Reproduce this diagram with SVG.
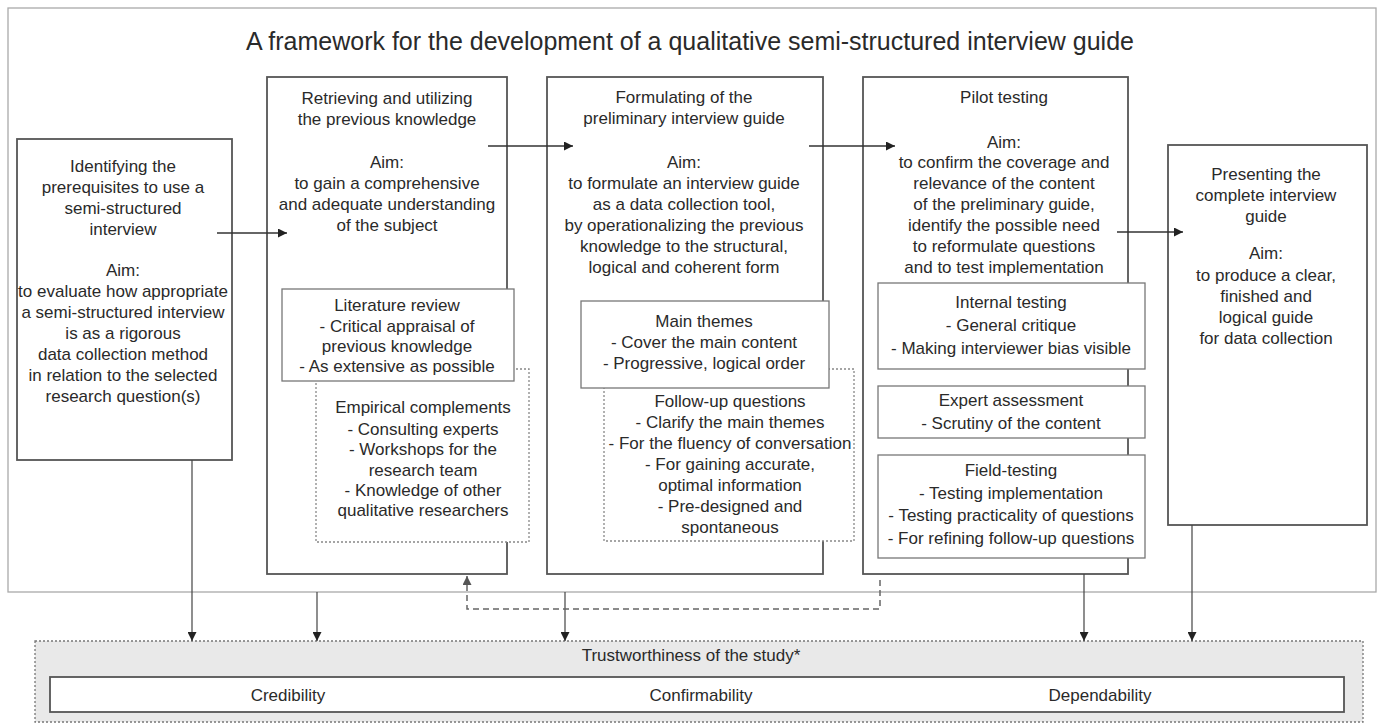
<svg xmlns="http://www.w3.org/2000/svg" width="1379" height="727" viewBox="0 0 1379 727">
<defs>
<marker id="ah" viewBox="0 0 10 10" refX="10" refY="5" markerWidth="11" markerHeight="9" markerUnits="userSpaceOnUse" orient="auto">
<path d="M0,0 L10,5 L0,10 z" fill="#222"/>
</marker>
<marker id="ahg" viewBox="0 0 10 10" refX="10" refY="5" markerWidth="11" markerHeight="9" markerUnits="userSpaceOnUse" orient="auto">
<path d="M0,0 L10,5 L0,10 z" fill="#555"/>
</marker>
</defs>
<style>
text{font-family:"Liberation Sans",Arial,Helvetica,sans-serif;font-size:17px;fill:#2a2a2a;text-anchor:middle}
.title{font-size:25px}
.main{fill:#fff;stroke:#555;stroke-width:1.8}
.sub{fill:#fff;stroke:#777;stroke-width:1.3}
.dot{fill:#fff;stroke:#888;stroke-width:1.3;stroke-dasharray:2 2}
.frame{fill:#fff;stroke:#aaa;stroke-width:1.3}
.arr{fill:none;stroke:#333;stroke-width:1.4}
.varr{fill:none;stroke:#444;stroke-width:1.2}
.dash{fill:none;stroke:#666;stroke-width:1.5;stroke-dasharray:6 4}
</style>
<rect width="1379" height="727" fill="#fff"/>
<g id="frame">
<rect class="frame" x="8" y="8" width="1368" height="584"/>
<text class="title" x="690" y="50">A framework for the development of a qualitative semi-structured interview guide</text>
</g>
<g id="step1">
<rect class="main" x="17" y="139" width="215" height="321"/>
<text x="123" y="172">Identifying the</text>
<text x="123" y="193">prerequisites to use a</text>
<text x="123" y="214">semi-structured</text>
<text x="123" y="235">interview</text>
<text x="123" y="276">Aim:</text>
<text x="123" y="297">to evaluate how appropriate</text>
<text x="123" y="318">a semi-structured interview</text>
<text x="123" y="339">is as a rigorous</text>
<text x="123" y="360">data collection method</text>
<text x="123" y="381">in relation to the selected</text>
<text x="123" y="402">research question(s)</text>
</g>
<g id="step2">
<rect class="main" x="267" y="77" width="240" height="497"/>
<text x="387" y="104">Retrieving and utilizing</text>
<text x="387" y="125">the previous knowledge</text>
<text x="387" y="168">Aim:</text>
<text x="387" y="189">to gain a comprehensive</text>
<text x="387" y="210">and adequate understanding</text>
<text x="387" y="231">of the subject</text>
</g>
<g id="empirical">
<rect class="dot" x="316" y="369" width="213" height="173"/>
<text x="423" y="413">Empirical complements</text>
<text x="423" y="435">- Consulting experts</text>
<text x="423" y="455">- Workshops for the</text>
<text x="423" y="476">research team</text>
<text x="423" y="496">- Knowledge of other</text>
<text x="423" y="516">qualitative researchers</text>
</g>
<g id="literature">
<rect class="sub" x="282" y="289" width="232" height="92"/>
<text x="397" y="311">Literature review</text>
<text x="397" y="332">- Critical appraisal of</text>
<text x="397" y="352">previous knowledge</text>
<text x="397" y="372">- As extensive as possible</text>
</g>
<g id="step3">
<rect class="main" x="547" y="77" width="276" height="497"/>
<text x="684" y="103">Formulating of the</text>
<text x="684" y="124">preliminary interview guide</text>
<text x="684" y="168">Aim:</text>
<text x="684" y="189">to formulate an interview guide</text>
<text x="684" y="210">as a data collection tool,</text>
<text x="684" y="231">by operationalizing the previous</text>
<text x="684" y="252">knowledge to the structural,</text>
<text x="684" y="273">logical and coherent form</text>
</g>
<g id="followup">
<rect class="dot" x="604" y="369" width="250" height="172"/>
<text x="730" y="407">Follow-up questions</text>
<text x="730" y="428">- Clarify the main themes</text>
<text x="730" y="449">- For the fluency of conversation</text>
<text x="730" y="470">- For gaining accurate,</text>
<text x="730" y="491">optimal information</text>
<text x="730" y="512">- Pre-designed and</text>
<text x="730" y="533">spontaneous</text>
</g>
<g id="themes">
<rect class="sub" x="581" y="301" width="248" height="87"/>
<text x="704" y="327">Main themes</text>
<text x="704" y="348">- Cover the main content</text>
<text x="704" y="369">- Progressive, logical order</text>
</g>
<g id="step4">
<rect class="main" x="863" y="77" width="265" height="497"/>
<text x="1004" y="103">Pilot testing</text>
<text x="1004" y="148">Aim:</text>
<text x="1004" y="168">to confirm the coverage and</text>
<text x="1004" y="189">relevance of the content</text>
<text x="1004" y="210">of the preliminary guide,</text>
<text x="1004" y="231">identify the possible need</text>
<text x="1004" y="252">to reformulate questions</text>
<text x="1004" y="273">and to test implementation</text>
</g>
<g id="internal">
<rect class="sub" x="878" y="283" width="267" height="86"/>
<text x="1011" y="308">Internal testing</text>
<text x="1011" y="331">- General critique</text>
<text x="1011" y="354">- Making interviewer bias visible</text>
</g>
<g id="expert">
<rect class="sub" x="878" y="386" width="267" height="52"/>
<text x="1011" y="406">Expert assessment</text>
<text x="1011" y="429">- Scrutiny of the content</text>
</g>
<g id="field">
<rect class="sub" x="878" y="455" width="267" height="103"/>
<text x="1011" y="476">Field-testing</text>
<text x="1011" y="499">- Testing implementation</text>
<text x="1011" y="521">- Testing practicality of questions</text>
<text x="1011" y="544">- For refining follow-up questions</text>
</g>
<g id="step5">
<rect class="main" x="1168" y="145" width="199" height="380"/>
<text x="1266" y="180">Presenting the</text>
<text x="1266" y="201">complete interview</text>
<text x="1266" y="222">guide</text>
<text x="1266" y="259">Aim:</text>
<text x="1266" y="281">to produce a clear,</text>
<text x="1266" y="302">finished and</text>
<text x="1266" y="323">logical guide</text>
<text x="1266" y="344">for data collection</text>
</g>
<g id="trust">
<rect x="35" y="641" width="1328" height="81" fill="#e9e9e9" stroke="#777" stroke-width="1.3" stroke-dasharray="2 2"/>
<text x="691" y="661">Trustworthiness of the study*</text>
<rect x="50" y="677" width="1294" height="35" fill="#fff" stroke="#555" stroke-width="1.8"/>
<text x="288" y="701">Credibility</text>
<text x="701" y="701">Confirmability</text>
<text x="1100" y="701">Dependability</text>
</g>
<g id="connectors">
<path class="arr" d="M217,233 H287" marker-end="url(#ah)"/>
<path class="arr" d="M488,146 H573" marker-end="url(#ah)"/>
<path class="arr" d="M809,146 H895" marker-end="url(#ah)"/>
<path class="arr" d="M1117,232 H1183" marker-end="url(#ah)"/>
<path class="varr" d="M192,460 V641" marker-end="url(#ah)"/>
<path class="varr" d="M317,592 V641" marker-end="url(#ah)"/>
<path class="varr" d="M565,592 V641" marker-end="url(#ah)"/>
<path class="varr" d="M1084,574 V641" marker-end="url(#ah)"/>
<path class="varr" d="M1192,525 V641" marker-end="url(#ah)"/>
<path class="dash" d="M880,580 V609 H467 V576" marker-end="url(#ahg)"/>
</g>
</svg>
